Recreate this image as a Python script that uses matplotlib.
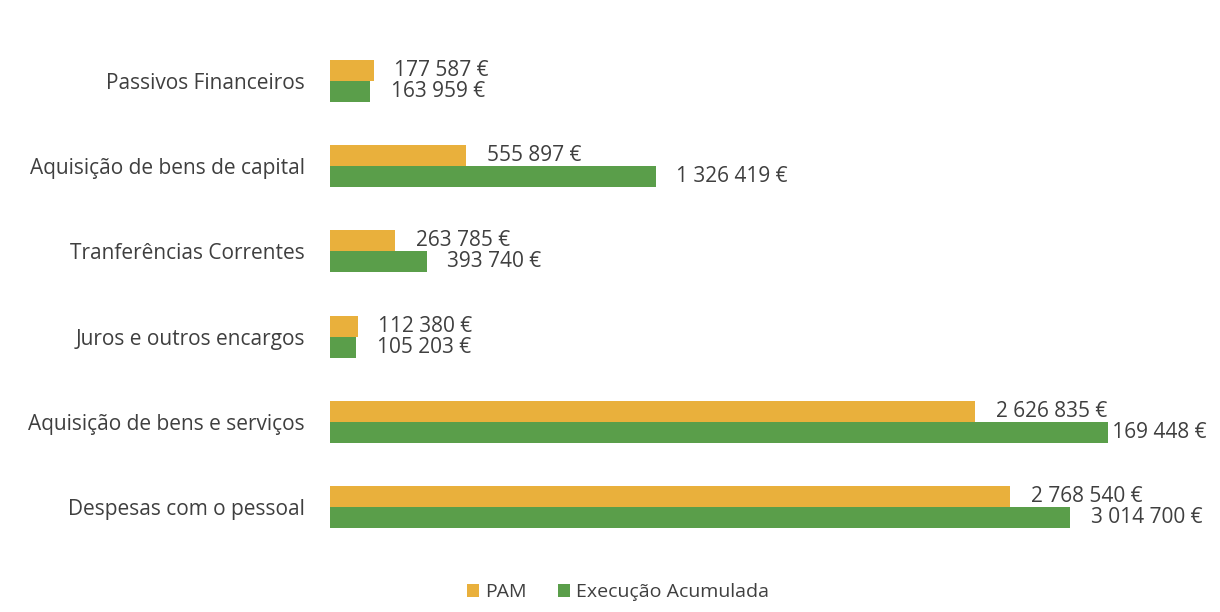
import matplotlib.pyplot as plt
import numpy as np

# ── Data ──────────────────────────────────────────────────────
categories = ['Despesas com o pessoal', 'Aquisição de bens e serviços',
              'Juros e outros encargos', 'Tranferências Correntes',
              'Aquisição de bens de capital', 'Passivos Financeiros']
pam      = [2768540, 2626835, 112380, 263785, 555897, 177587]
execucao = [3014700, 3169448, 105203, 393740, 1326419, 163959]

ORANGE = '#E9B03C'
GREEN  = '#5A9E4A'
TXT    = '#3F3F3F'

plt.rcParams['font.family'] = ['Open Sans', 'DejaVu Sans']


def fmt(v):
    return f"{v:,.0f}".replace(',', ' ') + ' €'


fig = plt.figure(figsize=(12.2, 6.12), dpi=100)
ax = fig.add_axes([330/1220, 1 - 550/612, 860/1220, 512/612])

y = np.arange(len(categories))
h = 0.245
ax.barh(y + h/2, pam, height=h, color=ORANGE, zorder=3, label='PAM')
ax.barh(y - h/2, execucao, height=h, color=GREEN, zorder=3, label='Execução Acumulada')

ax.set_xlim(0, 860 / 0.0002455)
ax.set_ylim(-0.5, len(categories) - 0.5)

# ── Étiquettes ────────────────────────────────────────────────
for yi, v in zip(y, pam):
    ax.annotate(fmt(v), (v, yi + h/2), xytext=(15, 0), textcoords='offset points',
                va='center', ha='left', fontsize=15, color=TXT, zorder=1)
for yi, v in zip(y, execucao):
    # l'étiquette qui dépasse passe sous la barre (comme dans l'original)
    off = -9.5 if v == max(execucao) else 15
    ax.annotate(fmt(v), (v, yi - h/2), xytext=(off, 0), textcoords='offset points',
                va='center', ha='left', fontsize=15, color=TXT, zorder=1)

ax.set_yticks(y)
ax.set_yticklabels(categories, fontsize=15, color=TXT)
ax.tick_params(axis='y', length=0, pad=18)
ax.set_xticks([])
for s in ax.spines.values():
    s.set_visible(False)

fig.legend(loc='center', bbox_to_anchor=(618/1220, 1 - 592/612), ncol=2, frameon=False,
           fontsize=14, handlelength=0.65, handleheight=0.65, handletextpad=0.3,
           columnspacing=1.6, labelcolor=TXT)

fig.savefig('out.png', dpi=100)
